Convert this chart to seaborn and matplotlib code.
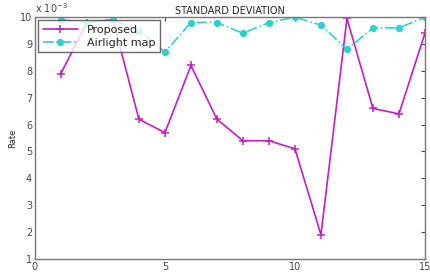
import numpy as np
import pandas as pd
import seaborn as sns
import matplotlib.pyplot as plt

# values (axis shows them in units of 1e-3)
frames = list(range(1, 16))
proposed = [7.9, 9.8, 9.9, 6.2, 5.7, 8.2, 6.2, 5.4, 5.4, 5.1, 1.9, 9.95, 6.6, 6.4, 9.4]
airlight = [9.9, 9.8, 9.9, 9.5, 8.7, 9.8, 9.8, 9.4, 9.8, 10.0, 9.7, 8.8, 9.6, 9.6, 10.0]

df = pd.DataFrame({
    'frame': frames * 2,
    'rate': proposed + airlight,
    'method': ['Proposed'] * 15 + ['Airlight map'] * 15,
})

sns.set_style('white')
plt.rcParams['font.family'] = ['DejaVu Sans']

fig, ax = plt.subplots(figsize=(4.31, 2.72), dpi=100)
fig.subplots_adjust(left=0.081, right=0.986, top=0.937, bottom=0.048)

pink = '#c020c0'
cyan = '#30d0d0'
sub = df[df.method == 'Proposed']
sns.lineplot(data=sub, x='frame', y='rate', ax=ax, color=pink, marker='+',
             markersize=6, markeredgewidth=1.1, markeredgecolor=pink,
             linewidth=1.2, label='Proposed')
sub = df[df.method == 'Airlight map']
sns.lineplot(data=sub, x='frame', y='rate', ax=ax, color=cyan, marker='o',
             markersize=4.5, markeredgecolor=cyan, linewidth=1.2,
             linestyle='-.', label='Airlight map')

ax.set_xlim(0, 15)
ax.set_ylim(1, 10)
ax.set_xticks([0, 5, 10, 15])
ax.set_yticks(np.arange(1, 11))
ax.tick_params(direction='in', length=3, labelsize=7, top=True, right=True,
               colors='#444444', pad=2)
for s in ax.spines.values():
    s.set_color('#777777')
    s.set_linewidth(1)
ax.set_xlabel('')
ax.set_ylabel('Rate', fontsize=6, labelpad=2)
ax.set_title('STANDARD DEVIATION', fontsize=7, pad=2)
ax.text(0.0, 1.01, r'x 10$^{-3}$', transform=ax.transAxes, fontsize=7,
        ha='left', va='bottom', color='#444444')
leg = ax.legend(loc='upper left', fontsize=8, frameon=True, fancybox=False,
                borderaxespad=0.3, handlelength=3.2, borderpad=0.4,
                labelspacing=0.25)
leg.get_frame().set_edgecolor('#444444')
leg.get_frame().set_linewidth(1)

fig.savefig('out.png', dpi=100)
